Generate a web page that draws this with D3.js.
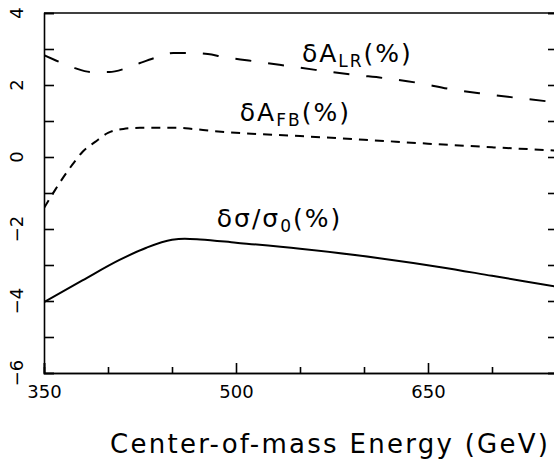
<!DOCTYPE html>
<html lang="en">
<head>
<meta charset="UTF-8">
<title>Energy dependence</title>
<script src="https://d3js.org/d3.v7.min.js"></script>
<style>
  body { margin: 0; background: #fff; }
  svg { display: block; }
  text { font-family: "DejaVu Sans", sans-serif; fill: #000; }
</style>
</head>
<body>
<div id="chart"></div>
<script>
// Data
var xMajorTicks = [350, 500, 650];
var xMinorTicks = [400, 450, 550, 600, 700, 750];
var yMajorTicks = [-6, -4, -2, 0, 2, 4];
var yMinorTicks = [-5, -3, -1, 1, 3];

var energyLR = [350, 362, 374, 387, 401, 413, 425, 438, 451, 464, 478, 490, 510, 534, 562, 593, 616, 642, 667, 695, 720, 750];
var deltaALR = [2.83, 2.64, 2.47, 2.36, 2.36, 2.45, 2.61, 2.77, 2.89, 2.89, 2.86, 2.78, 2.68, 2.56, 2.42, 2.28, 2.19, 2.06, 1.89, 1.75, 1.64, 1.52];

var energyFB = [350, 358.6, 364.8, 372, 380, 390, 400, 412, 425, 439, 454, 466, 482, 493, 550, 600, 650, 700, 750];
var deltaAFB = [-1.42, -0.92, -0.58, -0.22, 0.14, 0.42, 0.67, 0.78, 0.81, 0.81, 0.81, 0.78, 0.72, 0.69, 0.58, 0.48, 0.37, 0.27, 0.18];

var energySig = [350, 380, 409, 430, 450, 460, 472, 500, 550, 612, 660, 700, 750];
var deltaSig = [-4.03, -3.43, -2.86, -2.52, -2.3, -2.27, -2.29, -2.38, -2.55, -2.81, -3.06, -3.3, -3.6];

var width = 554, height = 462;
var margin = { top: 13, right: -2, bottom: 89, left: 44 };

var x = d3.scaleLinear().domain([350, 750]).range([margin.left, width - margin.right]);
var y = d3.scaleLinear().domain([-6, 4]).range([height - margin.bottom, margin.top]);

var svg = d3.select("#chart").append("svg")
  .attr("width", width)
  .attr("height", height);

svg.append("rect").attr("width", width).attr("height", height).attr("fill", "#fff");

svg.append("clipPath").attr("id", "plot")
  .append("rect")
  .attr("x", x(350)).attr("y", y(4))
  .attr("width", x(750) - x(350)).attr("height", y(-6) - y(4));

var minus = function (d) { return d < 0 ? "\u2212" + Math.abs(d) : "" + d; };

// bottom axis: minor ticks, then major ticks with labels
svg.append("g").attr("class", "axis")
  .attr("transform", "translate(0," + y(-6) + ")")
  .call(d3.axisBottom(x).tickValues(xMinorTicks).tickSize(-6).tickFormat(""));
svg.append("g").attr("class", "axis xmaj")
  .attr("transform", "translate(0," + y(-6) + ")")
  .call(d3.axisBottom(x).tickValues(xMajorTicks).tickSize(-10).tickPadding(12).tickFormat(d3.format("d")));

// left axis
svg.append("g").attr("class", "axis")
  .attr("transform", "translate(" + x(350) + ",0)")
  .call(d3.axisLeft(y).tickValues(yMinorTicks.concat(yMajorTicks)).tickSize(-10).tickFormat(""));

// right axis ticks (inward)
svg.append("g").attr("class", "axis")
  .attr("transform", "translate(" + x(750) + ",0)")
  .call(d3.axisRight(y).tickValues(yMinorTicks.concat(yMajorTicks)).tickSize(-8).tickFormat(""));

// top border
svg.append("line")
  .attr("x1", x(350)).attr("x2", x(750))
  .attr("y1", y(4)).attr("y2", y(4))
  .attr("stroke", "#000").attr("stroke-width", 1.6);

svg.selectAll(".axis path").attr("stroke", "#000").attr("stroke-width", 1.6);
svg.selectAll(".axis line").attr("stroke", "#000").attr("stroke-width", 1.6);
svg.selectAll(".xmaj text").attr("font-size", 18).attr("font-family", "DejaVu Sans, sans-serif");

// rotated y labels
svg.selectAll(".ylab")
  .data(yMajorTicks)
  .enter().append("text")
  .attr("class", "ylab")
  .attr("transform", function (d) { return "translate(23," + y(d) + ") rotate(-90)"; })
  .attr("text-anchor", "middle")
  .attr("font-size", 18)
  .text(minus);

// curves
var line = d3.line().curve(d3.curveMonotoneX)
  .x(function (d) { return x(d[0]); })
  .y(function (d) { return y(d[1]); });

var g = svg.append("g").attr("clip-path", "url(#plot)");

g.append("path")
  .datum(d3.zip(energyLR, deltaALR))
  .attr("d", line)
  .attr("fill", "none").attr("stroke", "#000").attr("stroke-width", 2)
  .attr("stroke-dasharray", "16,17");

g.append("path")
  .datum(d3.zip(energyFB, deltaAFB))
  .attr("d", line)
  .attr("fill", "none").attr("stroke", "#000").attr("stroke-width", 2)
  .attr("stroke-dasharray", "9,7");

g.append("path")
  .datum(d3.zip(energySig, deltaSig))
  .attr("d", line)
  .attr("fill", "none").attr("stroke", "#000").attr("stroke-width", 2);

// curve labels
function curveLabel(ex, vy, main, sub, tail) {
  var t = svg.append("text")
    .attr("x", x(ex)).attr("y", y(vy))
    .attr("font-size", 25)
    .attr("letter-spacing", 2);
  t.append("tspan").text(main);
  t.append("tspan").attr("font-size", 17).attr("dy", 5).text(sub);
  t.append("tspan").attr("dy", -5).text(tail);
}
curveLabel(551.5, 2.64, "\u03b4A", "LR", "(%)");
curveLabel(503, 1.0, "\u03b4A", "FB", "(%)");
curveLabel(485, -1.94, "\u03b4\u03c3/\u03c3", "0", "(%)");

// x title
svg.append("text")
  .attr("x", 110).attr("y", 453)
  .attr("font-size", 26)
  .attr("textLength", 438)
  .attr("lengthAdjust", "spacing")
  .text("Center-of-mass Energy (GeV)");
</script>
</body>
</html>
